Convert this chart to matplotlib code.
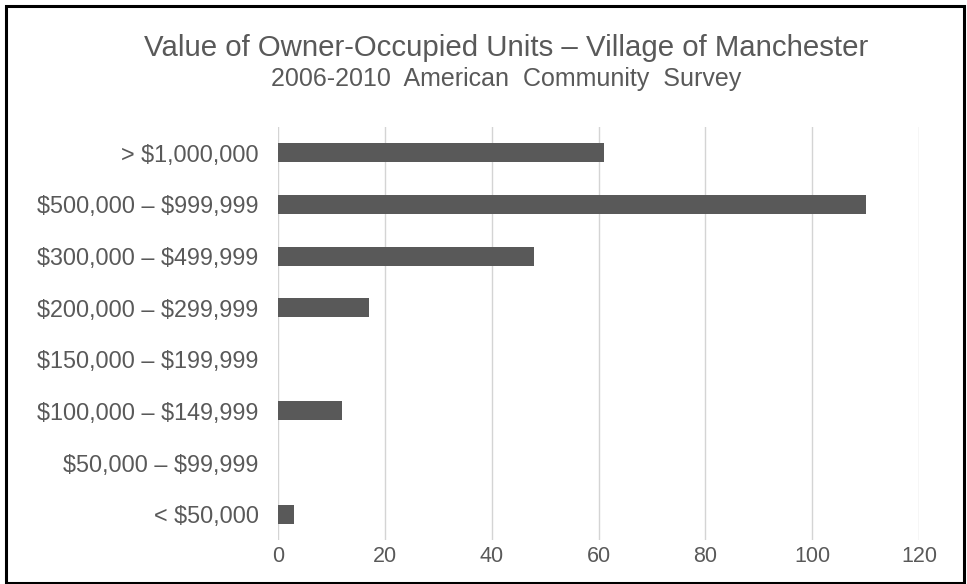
import matplotlib
matplotlib.use("Agg")
import matplotlib.pyplot as plt
from matplotlib.patches import Rectangle

categories = ["< \\$50,000", "\\$50,000 – \\$99,999", "\\$100,000 – \\$149,999",
              "\\$150,000 – \\$199,999", "\\$200,000 – \\$299,999",
              "\\$300,000 – \\$499,999", "\\$500,000 – \\$999,999", "> \\$1,000,000"]
values = [3, 0, 12, 0, 17, 48, 110, 61]
xticks = [0, 20, 40, 60, 80, 100, 120]

title = "Value of Owner-Occupied Units – Village of Manchester"
subtitle = "2006-2010  American  Community  Survey"

plt.rcParams['font.family'] = ['Liberation Sans', 'DejaVu Sans']
text_color = "#595959"

W, H = 967, 584
fig = plt.figure(figsize=(W / 100, H / 100), dpi=100)
ax = fig.add_axes([278 / W, 1 - 540 / H, (919 - 278) / W, (540 - 127) / H])

ypos = list(range(len(categories)))
ax.barh(ypos, values, height=0.37, color="#595959", linewidth=0, zorder=3)
ax.set_ylim(-0.5, len(categories) - 0.5)
ax.set_xlim(0, 120)
ax.set_xticks(xticks)
ax.set_xticklabels([str(t) for t in xticks], fontsize=15.5, color=text_color)
ax.set_yticks(ypos)
ax.set_yticklabels(categories, fontsize=16.8, color=text_color)
ax.tick_params(axis='both', length=0)
ax.tick_params(axis='x', pad=4)
ax.tick_params(axis='y', pad=14)
ax.grid(axis='x', color="#d4d4d4", linewidth=1, zorder=0)
for s in ax.spines.values():
    s.set_visible(False)

fig.text(506 / W, 1 - 48 / H, title, ha='center', va='center', fontsize=21.2, color=text_color)
fig.text(506 / W, 1 - 79 / H, subtitle, ha='center', va='center', fontsize=18, color=text_color)

fig.patches.append(Rectangle((6 / W, 1 / H), (964 - 6) / W, (578 - 1) / H,
                             transform=fig.transFigure, fill=False,
                             edgecolor="black", linewidth=2.2))

fig.savefig("out.png", dpi=100, facecolor="white")
